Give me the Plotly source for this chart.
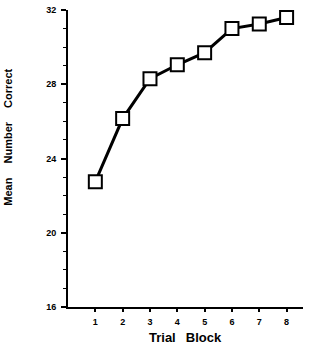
import plotly.graph_objects as go

trial_block = [1, 2, 3, 4, 5, 6, 7, 8]
mean_correct = [22.75, 26.15, 28.3, 29.05, 29.7, 31.0, 31.25, 31.6]
y_ticks = [16, 20, 24, 28, 32]

fig = go.Figure()
fig.add_trace(go.Scatter(
    x=trial_block, y=mean_correct, mode="lines+markers",
    line=dict(color="black", width=3),
    marker=dict(symbol="square", size=13, color="white",
                line=dict(color="black", width=2)),
    cliponaxis=False, showlegend=False))

tf = dict(family="Liberation Sans", size=9, color="black", weight="bold")
fig.update_layout(
    width=320, height=348,
    margin=dict(l=68, r=17, t=5, b=41),
    paper_bgcolor="white", plot_bgcolor="white",
    xaxis=dict(range=[0, 8.6], tickvals=trial_block, ticks="outside",
               ticklen=3, tickwidth=1.5, tickcolor="black",
               showline=True, linecolor="black", linewidth=2,
               showgrid=False, zeroline=False, tickfont=tf, ticklabelstandoff=2),
    yaxis=dict(range=[16, 32], tickvals=y_ticks, ticks="outside",
               ticklen=5, tickwidth=1.5, tickcolor="black",
               minor=dict(dtick=1, ticks="outside", ticklen=3, tickwidth=1, tickcolor="black", showgrid=False),
               showline=True, linecolor="black", linewidth=2,
               showgrid=False, zeroline=False, tickfont=tf, ticklabelstandoff=3),
    annotations=[
        dict(text="Trial\u2002 Block", x=0.5, y=0, xref="paper", yref="paper",
             xanchor="center", yanchor="top", yshift=-21, showarrow=False,
             font=dict(family="Liberation Sans", size=13, color="black", weight="bold")),
        dict(text="Mean\u2003 Number\u2003 Correct", x=0, y=0.57, xref="paper", yref="paper",
             xanchor="center", yanchor="middle", xshift=-60, textangle=-90, showarrow=False,
             font=dict(family="Liberation Sans", size=11, color="black", weight="bold")),
    ],
)
fig.write_html("out.html")
